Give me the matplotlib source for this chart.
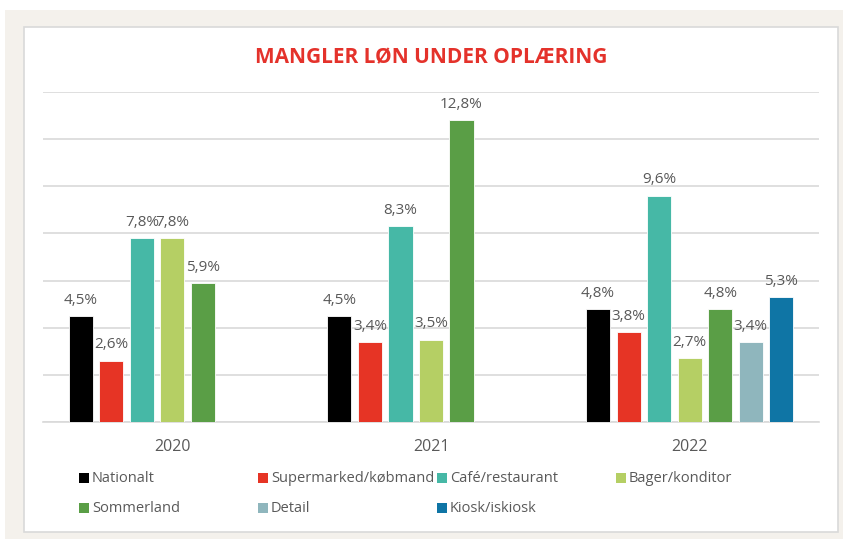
import numpy as np
import matplotlib
matplotlib.use("Agg")
import matplotlib.pyplot as plt
from matplotlib.patches import Rectangle

years = ["2020", "2021", "2022"]
series = ["Nationalt", "Supermarked/købmand", "Café/restaurant", "Bager/konditor",
          "Sommerland", "Detail", "Kiosk/iskiosk"]
colors = ["#000000", "#E63425", "#46B8A6", "#B5CF64", "#5A9E46", "#8FB6BD", "#0F75A5"]

nationalt = [4.5, 4.5, 4.8]
supermarked = [2.6, 3.4, 3.8]
cafe = [7.8, 8.3, 9.6]
bager = [7.8, 3.5, 2.7]
sommerland = [5.9, 12.8, 4.8]
detail = [None, None, 3.4]
kiosk = [None, None, 5.3]
values = [nationalt, supermarked, cafe, bager, sommerland, detail, kiosk]

W, H = 843, 539
plt.rcParams["font.family"] = ["Open Sans", "DejaVu Sans"]
fig = plt.figure(figsize=(W / 100, H / 100), dpi=100)
fig.patch.set_facecolor("white")

# beige frame + white panel (pixel coords -> figure fraction)
def px_rect(x0, y0, x1, y1, z=-2, **kw):
    fig.patches.append(Rectangle((x0 / W, 1 - y1 / H), (x1 - x0) / W, (y1 - y0) / H,
                                 transform=fig.transFigure, figure=fig, zorder=z, **kw))

px_rect(5, 10, W, H, facecolor="#F4F1EC", edgecolor="none", z=-3)
px_rect(24, 27, 838, 532, facecolor="white", edgecolor="#D9D9D9", linewidth=1.2)

ax = fig.add_axes([43 / W, 1 - 422 / H, (819 - 43) / W, (422 - 92) / H])
ax.set_facecolor("none")
ax.set_zorder(2)

slot = 0.118
bar_w = 0.093
x = np.arange(len(years))
for j, (name, vals, c) in enumerate(zip(series, values, colors)):
    for i, v in enumerate(vals):
        if v is None:
            continue
        xpos = x[i] + (j - 3) * slot
        ax.bar(xpos, v, width=bar_w, color=c, edgecolor="white", linewidth=0.6, zorder=3)
        ax.annotate(f"{v:.1f}%".replace(".", ","), (xpos, v), textcoords="offset points",
                    xytext=(0, 6), ha="center", va="bottom", fontsize=11, color="#595959",
                    zorder=4)

ax.set_ylim(0, 14)
ax.set_xlim(-0.5, 2.5)
ax.set_yticks(np.arange(0, 15, 2))
ax.yaxis.grid(True, color="#D9D9D9", linewidth=1.2, zorder=0)
ax.set_axisbelow(True)
ax.tick_params(axis="y", left=False, labelleft=False)
ax.tick_params(axis="x", bottom=False, labelsize=11.5, labelcolor="#595959", pad=9)
ax.set_xticks(x)
ax.set_xticklabels(years)
for s in ["top", "right", "left"]:
    ax.spines[s].set_visible(False)
ax.spines["bottom"].set_color("#D9D9D9")
ax.spines["bottom"].set_linewidth(1.2)

fig.text(431 / W, 1 - 58 / H, "MANGLER LØN UNDER OPLÆRING", ha="center", va="center",
         fontsize=15, fontweight="bold", color="#E4322B")

# legend: 4 equal-width columns
col_x = [79, 258, 437, 616]
row_y = [478, 508]
for k, (name, c) in enumerate(zip(series, colors)):
    cx = col_x[k % 4]
    cy = row_y[k // 4]
    px_rect(cx, cy - 5, cx + 10, cy + 5, z=1, facecolor=c, edgecolor="none")
    fig.text((cx + 13) / W, 1 - cy / H, name, ha="left", va="center",
             fontsize=10.5, color="#595959")

fig.savefig("out.png", dpi=100)
